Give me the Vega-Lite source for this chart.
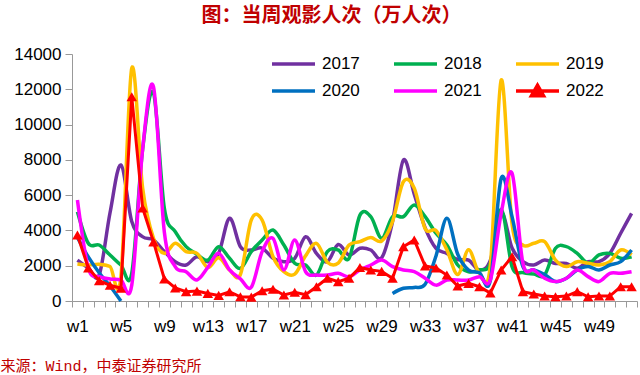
{
  "$schema": "https://vega.github.io/schema/vega-lite/v6.json",
  "autosize": {"type": "none"},
  "padding": {"left": 72, "top": 54, "right": 3, "bottom": 74},
  "width": 565,
  "height": 247,
  "background": "white",
  "config": {
    "view": {"stroke": null},
    "font": "Liberation Sans"
  },
  "title": {
    "text": "图：当周观影人次（万人次）",
    "anchor": "middle",
    "dx": -23,
    "offset": 19,
    "fontSize": 20,
    "color": "#C00000",
    "font": "Noto Sans CJK SC",
    "fontWeight": "bold"
  },
  "data": {
    "values": [
      {"week": 1, "y2017": 2320, "y2018": 5060, "y2019": 2100, "y2020": 3600, "y2021": 5720, "y2022": 3740},
      {"week": 2, "y2017": 1870, "y2018": 3270, "y2019": 2040, "y2020": 2500, "y2021": 1870, "y2022": 1870},
      {"week": 3, "y2017": 1470, "y2018": 3170, "y2019": 2080, "y2020": 1600, "y2021": 1380, "y2022": 1150},
      {"week": 4, "y2017": 5000, "y2018": 2610, "y2019": 1950, "y2020": 850, "y2021": 1250, "y2022": 890},
      {"week": 5, "y2017": 7710, "y2018": 2040, "y2019": 1380, "y2020": 0, "y2021": 1190, "y2022": 720},
      {"week": 6, "y2017": 4500, "y2018": 1570, "y2019": 13190, "y2020": null, "y2021": 900, "y2022": 11580},
      {"week": 7, "y2017": 3640, "y2018": 8600, "y2019": 6400, "y2020": null, "y2021": 8600, "y2022": 5270},
      {"week": 8, "y2017": 3460, "y2018": 11800, "y2019": 3550, "y2020": null, "y2021": 12150, "y2022": 3350},
      {"week": 9, "y2017": 2800, "y2018": 5250, "y2019": 2700, "y2020": null, "y2021": 3900, "y2022": 1250},
      {"week": 10, "y2017": 2230, "y2018": 3930, "y2019": 3270, "y2020": null, "y2021": 1950, "y2022": 740},
      {"week": 11, "y2017": 2040, "y2018": 3080, "y2019": 2800, "y2020": null, "y2021": 1660, "y2022": 530},
      {"week": 12, "y2017": 2510, "y2018": 2650, "y2019": 2700, "y2020": null, "y2021": 1190, "y2022": 560},
      {"week": 13, "y2017": 2230, "y2018": 2320, "y2019": 1900, "y2020": null, "y2021": 1900, "y2022": 430},
      {"week": 14, "y2017": 2700, "y2018": 3080, "y2019": 2450, "y2020": null, "y2021": 2700, "y2022": 320},
      {"week": 15, "y2017": 4690, "y2018": 2420, "y2019": 1760, "y2020": null, "y2021": 1760, "y2022": 520},
      {"week": 16, "y2017": 3080, "y2018": 1850, "y2019": 1500, "y2020": null, "y2021": 1250, "y2022": 240},
      {"week": 17, "y2017": 2890, "y2018": 2800, "y2019": 4590, "y2020": null, "y2021": 780, "y2022": 220},
      {"week": 18, "y2017": 3000, "y2018": 3460, "y2019": 4590, "y2020": null, "y2021": 2800, "y2022": 580},
      {"week": 19, "y2017": 2420, "y2018": 4020, "y2019": 2510, "y2020": null, "y2021": 3550, "y2022": 670},
      {"week": 20, "y2017": 2230, "y2018": 3170, "y2019": 1660, "y2020": null, "y2021": 1760, "y2022": 340},
      {"week": 21, "y2017": 2420, "y2018": 2140, "y2019": 1520, "y2020": null, "y2021": 3460, "y2022": 500},
      {"week": 22, "y2017": 3640, "y2018": 2040, "y2019": 2560, "y2020": null, "y2021": 1660, "y2022": 360},
      {"week": 23, "y2017": 2700, "y2018": 1470, "y2019": 3270, "y2020": null, "y2021": 1470, "y2022": 810},
      {"week": 24, "y2017": 2230, "y2018": 2800, "y2019": 2200, "y2020": null, "y2021": 1470, "y2022": 1290},
      {"week": 25, "y2017": 3200, "y2018": 2890, "y2019": 2150, "y2020": null, "y2021": 1570, "y2022": 1100},
      {"week": 26, "y2017": 2600, "y2018": 2420, "y2019": 3170, "y2020": null, "y2021": 1380, "y2022": 1290},
      {"week": 27, "y2017": 2990, "y2018": 4870, "y2019": 3360, "y2020": null, "y2021": 1760, "y2022": 1900},
      {"week": 28, "y2017": 2890, "y2018": 4780, "y2019": 3600, "y2020": null, "y2021": 2040, "y2022": 1760},
      {"week": 29, "y2017": 2450, "y2018": 3550, "y2019": 3400, "y2020": null, "y2021": 2320, "y2022": 1680},
      {"week": 30, "y2017": 4500, "y2018": 4780, "y2019": 4500, "y2020": 430, "y2021": 1950, "y2022": 1290},
      {"week": 31, "y2017": 7990, "y2018": 4780, "y2019": 6760, "y2020": 720, "y2021": 1760, "y2022": 3080},
      {"week": 32, "y2017": 6050, "y2018": 5440, "y2019": 6390, "y2020": 770, "y2021": 1660, "y2022": 3460},
      {"week": 33, "y2017": 4150, "y2018": 4780, "y2019": 4100, "y2020": 950, "y2021": 1290, "y2022": 1980},
      {"week": 34, "y2017": 2990, "y2018": 3840, "y2019": 4000, "y2020": 2550, "y2021": 900, "y2022": 1870},
      {"week": 35, "y2017": 2700, "y2018": 3170, "y2019": 2900, "y2020": 4690, "y2021": 1190, "y2022": 1470},
      {"week": 36, "y2017": 2350, "y2018": 2040, "y2019": 1500, "y2020": 2650, "y2021": 1190, "y2022": 850},
      {"week": 37, "y2017": 2320, "y2018": 1660, "y2019": 2900, "y2020": 1750, "y2021": 1190, "y2022": 1000},
      {"week": 38, "y2017": 1760, "y2018": 1760, "y2019": 1570, "y2020": 1600, "y2021": 1380, "y2022": 810},
      {"week": 39, "y2017": 2300, "y2018": 2140, "y2019": 2000, "y2020": 1150, "y2021": 1190, "y2022": 450},
      {"week": 40, "y2017": 5000, "y2018": 5200, "y2019": 12530, "y2020": 6950, "y2021": 4970, "y2022": 1760},
      {"week": 41, "y2017": 3000, "y2018": 1950, "y2019": 4360, "y2020": 4780, "y2021": 7240, "y2022": 2510},
      {"week": 42, "y2017": 2230, "y2018": 1610, "y2019": 3170, "y2020": 1950, "y2021": 2140, "y2022": 530},
      {"week": 43, "y2017": 2040, "y2018": 1530, "y2019": 3270, "y2020": 1760, "y2021": 1760, "y2022": 400},
      {"week": 44, "y2017": 2320, "y2018": 1470, "y2019": 3360, "y2020": 1500, "y2021": 1290, "y2022": 280},
      {"week": 45, "y2017": 2130, "y2018": 2990, "y2019": 2320, "y2020": 1100, "y2021": 1100, "y2022": 240},
      {"week": 46, "y2017": 2130, "y2018": 3080, "y2019": 1950, "y2020": 1290, "y2021": 1290, "y2022": 280},
      {"week": 47, "y2017": 1850, "y2018": 2700, "y2019": 2230, "y2020": 1760, "y2021": 1760, "y2022": 530},
      {"week": 48, "y2017": 2230, "y2018": 2140, "y2019": 2140, "y2020": 1950, "y2021": 1380, "y2022": 240},
      {"week": 49, "y2017": 2230, "y2018": 2610, "y2019": 2040, "y2020": 1760, "y2021": 1100, "y2022": 280},
      {"week": 50, "y2017": 2700, "y2018": 2700, "y2019": 2230, "y2020": 2040, "y2021": 1570, "y2022": 280},
      {"week": 51, "y2017": 3840, "y2018": 2420, "y2019": 2890, "y2020": 2230, "y2021": 1570, "y2022": 810},
      {"week": 52, "y2017": 4970, "y2018": 2510, "y2019": 2610, "y2020": 2890, "y2021": 1660, "y2022": 810}
    ]
  },
  "encoding": {
    "x": {
      "field": "week",
      "type": "ordinal",
      "bandPosition": 0.5,
      "scale": {"type": "band", "paddingInner": 0, "paddingOuter": 0},
      "axis": {
        "tickBand": "extent",
        "labelExpr": "(datum.value - 1) % 4 === 0 ? 'w' + datum.value : ''",
        "labelAngle": 0,
        "labelOverlap": false,
        "labelFontSize": 17,
        "labelColor": "#000000",
        "labelPadding": 11,
        "tickSize": 6,
        "tickColor": "#999999",
        "domainColor": "#999999",
        "title": "来源：Wind，中泰证券研究所",
        "titleX": -72,
        "titleY": 64,
        "titleAlign": "left",
        "titleAnchor": "start",
        "titleBaseline": "middle",
        "titleFontSize": 15,
        "titleFontWeight": "normal",
        "titleColor": "#C00000",
        "titleFont": "Liberation Mono, Noto Sans CJK SC"
      }
    },
    "y": {
      "type": "quantitative",
      "scale": {"domain": [0, 14000], "nice": false},
      "axis": {
        "title": null,
        "format": "d",
        "values": [0, 2000, 4000, 6000, 8000, 10000, 12000, 14000],
        "grid": false,
        "labelFontSize": 17,
        "labelColor": "#000000",
        "labelPadding": 4,
        "tickSize": 7,
        "tickColor": "#999999",
        "domainColor": "#999999"
      }
    },
    "color": {
      "type": "nominal",
      "scale": {
        "domain": ["2017", "2018", "2019", "2020", "2021", "2022"],
        "range": ["#7030A0", "#00B050", "#FFC000", "#0070C0", "#FF00FF", "#FF0000"]
      },
      "legend": {
        "title": null,
        "orient": "none",
        "direction": "horizontal",
        "legendX": 198,
        "legendY": 0,
        "columns": 3,
        "columnPadding": 32,
        "rowPadding": 7,
        "clipHeight": 20,
        "padding": 0,
        "symbolType": "stroke",
        "symbolSize": 1849,
        "symbolStrokeWidth": 3.5,
        "labelFontSize": 17,
        "labelColor": "#000000",
        "labelOffset": 5,
        "encode": {
          "symbols": {
            "update": {
              "shape": {"signal": "datum.label === '2022' ? 'M-1,0L1,0M-0.28,0.22L0.28,0.22L0,-0.27Z' : 'stroke'"},
              "fill": {"signal": "datum.label === '2022' ? '#FF0000' : 'transparent'"},
              "strokeWidth": {"value": 3.5}
            }
          }
        }
      }
    }
  },
  "layer": [
    {
      "mark": {"type": "line", "interpolate": "cardinal", "strokeWidth": 3.5, "invalid": "break-paths-show-domains"},
      "encoding": {"y": {"field": "y2017"}, "color": {"datum": "2017"}}
    },
    {
      "mark": {"type": "line", "interpolate": "cardinal", "strokeWidth": 3.5, "invalid": "break-paths-show-domains"},
      "encoding": {"y": {"field": "y2018"}, "color": {"datum": "2018"}}
    },
    {
      "mark": {"type": "line", "interpolate": "cardinal", "strokeWidth": 3.5, "invalid": "break-paths-show-domains"},
      "encoding": {"y": {"field": "y2019"}, "color": {"datum": "2019"}}
    },
    {
      "mark": {"type": "line", "interpolate": "cardinal", "strokeWidth": 3.5, "invalid": "break-paths-show-domains"},
      "encoding": {"y": {"field": "y2020"}, "color": {"datum": "2020"}}
    },
    {
      "mark": {"type": "line", "interpolate": "cardinal", "strokeWidth": 3.5, "invalid": "break-paths-show-domains"},
      "encoding": {"y": {"field": "y2021"}, "color": {"datum": "2021"}}
    },
    {
      "mark": {"type": "line", "strokeWidth": 3, "invalid": "break-paths-show-domains"},
      "encoding": {"y": {"field": "y2022"}, "color": {"datum": "2022"}}
    },
    {
      "mark": {"type": "point", "shape": "triangle-up", "filled": true, "opacity": 1, "size": 110, "color": "#FF0000"},
      "encoding": {"y": {"field": "y2022"}, "color": {"value": "#FF0000"}}
    }
  ]
}
